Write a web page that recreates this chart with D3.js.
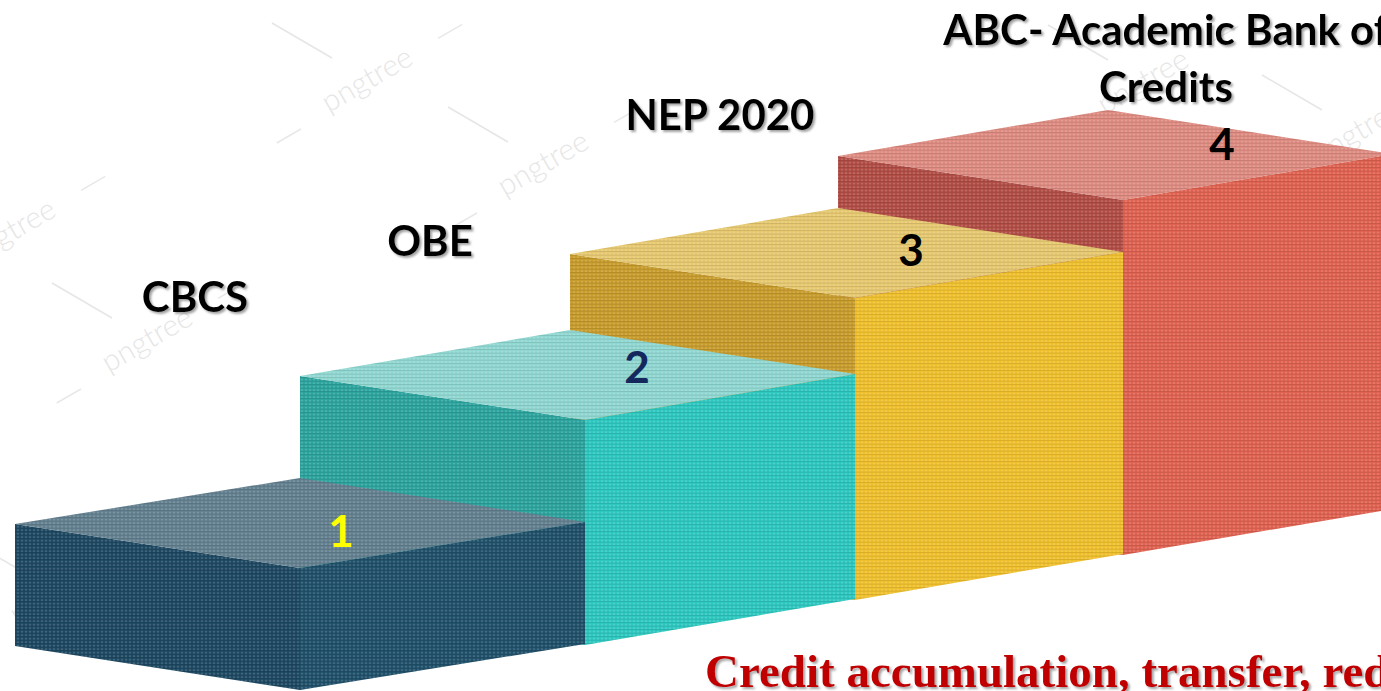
<!DOCTYPE html>
<html>
<head>
<meta charset="utf-8">
<script src="https://cdn.jsdelivr.net/npm/d3@7"></script>
<style>
html, body { margin: 0; padding: 0; background: #fff; overflow: hidden; }
</style>
</head>
<body>
<div id="chart"></div>
<script>
var canvasWidth = 1381;
var canvasHeight = 691;

// step data
var steps = [1, 2, 3, 4];
var stepNames = [["CBCS"], ["OBE"], ["NEP 2020"], ["ABC- Academic Bank of", "Credits"]];
var stepNumbers = ["1", "2", "3", "4"];
var topColors = ["#627f8f", "#8fd7d1", "#e6c86e", "#de8a80"];
var leftColors = ["#1c4761", "#2aa39d", "#c79b2a", "#b04b43"];
var rightColors = ["#1e4f69", "#2ac7bf", "#efbf2a", "#df604f"];
var numberColors = ["#ffff00", "#14285e", "#000000", "#000000"];
var footerText = "Credit accumulation, transfer, redemption";

// layout of the annotations
var labelPos = [[195, 312], [430, 256], [720, 130], [1166, 45]];
var numberPos = [[341, 547], [637, 383], [911, 266], [1222, 160]];
var watermarks = [[372, 88], [548, 172], [15, 240], [152, 348], [1148, 90], [1362, 140], [760, 330], [930, 420], [1230, 430], [60, 600]];

// box projection
var wL = 285, wLast = 270, dL = 44, dR = 46;
var xFront = d3.scaleLinear().domain([1, 2, 3, 4]).range([300, 585, 855, 1123]);
var yTop = d3.scaleLinear().domain([1, 2, 3, 4]).range([568, 420, 298, 200]);
var yBase = d3.scaleLinear().domain([1, 4]).range([690, 555]);

var svg = d3.select("#chart").append("svg")
    .attr("width", canvasWidth)
    .attr("height", canvasHeight)
    .style("font-family", "Lato, 'Open Sans', sans-serif");

var defs = svg.append("defs");
var mesh = defs.append("pattern")
    .attr("id", "mesh")
    .attr("patternUnits", "userSpaceOnUse")
    .attr("width", 4)
    .attr("height", 3.5);
mesh.append("ellipse")
    .attr("cx", 2).attr("cy", 1.75).attr("rx", 1.3).attr("ry", 1)
    .attr("fill", "#fff").attr("fill-opacity", 0.16);
mesh.append("rect")
    .attr("x", 0).attr("y", 3).attr("width", 4).attr("height", 0.5)
    .attr("fill", "#000").attr("fill-opacity", 0.18);

var shadow = defs.append("filter").attr("id", "shadow")
    .attr("x", "-10%").attr("y", "-20%").attr("width", "130%").attr("height", "150%");
shadow.append("feDropShadow")
    .attr("dx", 2).attr("dy", 2).attr("stdDeviation", 1.2)
    .attr("flood-color", "#666").attr("flood-opacity", 0.6);

// watermark
var wm = svg.append("g").attr("id", "watermark");
watermarks.forEach(function (p) {
    var g = wm.append("g").attr("transform", "translate(" + p[0] + "," + p[1] + ") rotate(-30)");
    g.append("text")
        .attr("text-anchor", "middle")
        .attr("font-size", 30)
        .attr("font-weight", 300)
        .attr("fill", "#e6e6e6")
        .text("pngtree");
    g.append("line").attr("x1", -110).attr("x2", -82).attr("y1", 0).attr("y2", 0)
        .attr("stroke", "#e8e8e8").attr("stroke-width", 1.5);
    g.append("line").attr("x1", 82).attr("x2", 110).attr("y1", -10).attr("y2", -10)
        .attr("stroke", "#e8e8e8").attr("stroke-width", 1.5);
    wm.append("line")
        .attr("x1", p[0] - 100).attr("y1", p[1] - 65)
        .attr("x2", p[0] - 40).attr("y2", p[1] - 30)
        .attr("stroke", "#e6e6e6").attr("stroke-width", 1.5);
});

function facePoints(s) {
    var fx = xFront(s), ft = yTop(s), fb = yBase(s);
    var wR = s < steps.length ? xFront(s + 1) - fx : wLast;
    return {
        left: [[fx - wL, ft - dL], [fx, ft], [fx, fb], [fx - wL, fb - dL]],
        right: [[fx, ft], [fx + wR, ft - dR], [fx + wR, fb - dR], [fx, fb]],
        top: [[fx - wL, ft - dL], [fx - wL + wR, ft - dL - dR], [fx + wR, ft - dR], [fx, ft]]
    };
}

var line = d3.line().curve(d3.curveLinearClosed);

// boxes, back to front
var boxes = svg.append("g").attr("id", "steps")
    .selectAll("g")
    .data(steps.slice().reverse())
    .enter()
    .append("g");

boxes.each(function (s) {
    var i = s - 1;
    var f = facePoints(s);
    var g = d3.select(this);
    [["left", leftColors[i]], ["right", rightColors[i]], ["top", topColors[i]]].forEach(function (face) {
        g.append("path").attr("d", line(f[face[0]])).attr("fill", face[1]);
        g.append("path").attr("d", line(f[face[0]])).attr("fill", "url(#mesh)");
    });
});

// step numbers
svg.append("g").selectAll("text")
    .data(steps)
    .enter()
    .append("text")
    .attr("x", function (s) { return numberPos[s - 1][0]; })
    .attr("y", function (s) { return numberPos[s - 1][1]; })
    .attr("text-anchor", "middle")
    .attr("font-size", 44)
    .attr("font-weight", 700)
    .attr("fill", function (s) { return numberColors[s - 1]; })
    .text(function (s) { return stepNumbers[s - 1]; });

// step names
var names = svg.append("g").attr("filter", "url(#shadow)")
    .selectAll("text")
    .data(steps)
    .enter()
    .append("text")
    .attr("text-anchor", "middle")
    .attr("font-size", 42)
    .attr("font-weight", 700)
    .attr("fill", "#000");
names.selectAll("tspan")
    .data(function (s) { return stepNames[s - 1].map(function (t, k) { return {s: s, t: t, k: k}; }); })
    .enter()
    .append("tspan")
    .attr("x", function (d) { return labelPos[d.s - 1][0]; })
    .attr("y", function (d) { return labelPos[d.s - 1][1] + d.k * 57; })
    .text(function (d) { return d.t; });

// footer
svg.append("text")
    .attr("x", 705)
    .attr("y", 687)
    .attr("font-family", "'Liberation Serif', 'DejaVu Serif', serif")
    .attr("font-size", 47)
    .attr("font-weight", 700)
    .attr("fill", "#c00000")
    .attr("filter", "url(#shadow)")
    .text(footerText);
</script>
</body>
</html>
